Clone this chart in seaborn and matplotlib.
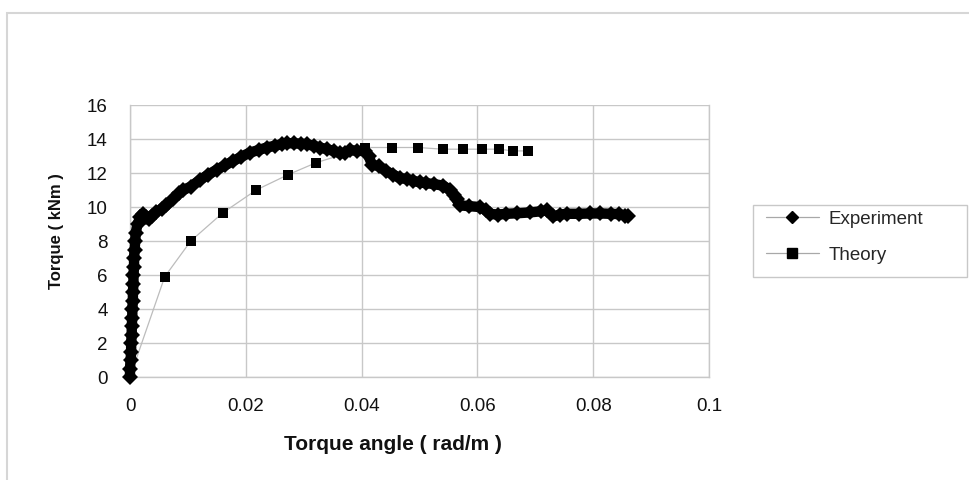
import matplotlib
matplotlib.use("Agg")
import matplotlib.pyplot as plt
from matplotlib.lines import Line2D
from matplotlib.patches import Rectangle
import seaborn as sns
import pandas as pd

# ---- data ----
exp_angle = [0.0000, 0.0000, 0.0001, 0.0002, 0.0002, 0.0003, 0.0003, 0.0004, 0.0004,
             0.0005, 0.0005, 0.0006, 0.0006, 0.0007, 0.0007, 0.0008, 0.0009, 0.0010,
             0.0013, 0.0018, 0.0022, 0.0027, 0.0032, 0.0038, 0.0045, 0.0055, 0.0063,
             0.0075, 0.0085, 0.0092, 0.0105, 0.0121, 0.0135, 0.0150, 0.0164, 0.0178,
             0.0192, 0.0207, 0.0222, 0.0236, 0.0250, 0.0262, 0.0271, 0.0283, 0.0295,
             0.0305, 0.0317, 0.0328, 0.0340, 0.0352, 0.0363, 0.0372, 0.0380, 0.0392,
             0.0406, 0.0412, 0.0418, 0.0430, 0.0443, 0.0455, 0.0466, 0.0478, 0.0489,
             0.0500, 0.0512, 0.0525, 0.0541, 0.0553, 0.0560, 0.0564, 0.0570, 0.0585,
             0.0604, 0.0615, 0.0622, 0.0635, 0.0650, 0.0668, 0.0690, 0.0710, 0.0720,
             0.0731, 0.0742, 0.0754, 0.0775, 0.0795, 0.0812, 0.0830, 0.0845, 0.0855,
             0.0860]
exp_torque = [0.0, 0.5, 1.0, 1.5, 2.0, 2.5, 3.0, 3.5, 4.0,
              4.5, 5.0, 5.5, 6.0, 6.5, 7.0, 7.5, 8.0, 8.5,
              9.0, 9.4, 9.6, 9.4, 9.3, 9.5, 9.7, 9.9, 10.1,
              10.5, 10.8, 11.0, 11.2, 11.6, 11.9, 12.2, 12.45, 12.7,
              12.95, 13.2, 13.35, 13.5, 13.6, 13.7, 13.75, 13.75, 13.72,
              13.7, 13.6, 13.5, 13.4, 13.3, 13.15, 13.2, 13.35, 13.3,
              13.3, 13.0, 12.5, 12.4, 12.1, 11.9, 11.7, 11.65, 11.55,
              11.45, 11.4, 11.35, 11.25, 11.0, 10.7, 10.45, 10.1, 10.05,
              10.0, 9.8, 9.6, 9.55, 9.6, 9.63, 9.68, 9.75, 9.8,
              9.45, 9.55, 9.6, 9.6, 9.62, 9.62, 9.6, 9.58, 9.5,
              9.45]

theory_angle = [0.0, 0.0060, 0.0105, 0.0160, 0.0218, 0.0273, 0.0321, 0.0406,
                0.0452, 0.0498, 0.0540, 0.0575, 0.0608, 0.0637, 0.0662, 0.0688]
theory_torque = [0.0, 5.9, 8.0, 9.65, 11.0, 11.9, 12.6, 13.5,
                 13.5, 13.5, 13.4, 13.4, 13.4, 13.4, 13.3, 13.3]

x_ticks = [0, 0.02, 0.04, 0.06, 0.08, 0.1]
x_tick_labels = ["0", "0.02", "0.04", "0.06", "0.08", "0.1"]
y_ticks = [0, 2, 4, 6, 8, 10, 12, 14, 16]

exp_df = pd.DataFrame({"angle": exp_angle, "torque": exp_torque})
th_df = pd.DataFrame({"angle": theory_angle, "torque": theory_torque})

# ---- style ----
sns.set_style("white")
plt.rcParams["font.family"] = ["Liberation Sans", "DejaVu Sans"]

W, H = 969, 480
fig = plt.figure(figsize=(W / 100, H / 100), dpi=100)
ax = fig.add_axes([130 / W, 1 - 377 / H, 579 / W, 272 / H])

grid_c = "#c8c8c8"

# Theory: thin grey line with square markers
sns.lineplot(data=th_df, x="angle", y="torque", ax=ax, sort=False, estimator=None,
             color="#bcbcbc", linewidth=0.9, zorder=2)
sns.scatterplot(data=th_df, x="angle", y="torque", ax=ax, marker="s", s=55,
                color="black", edgecolor="black", linewidth=0, zorder=3)

# Experiment: dense diamonds forming a thick band
n_before = len(ax.lines)
sns.lineplot(data=exp_df, x="angle", y="torque", ax=ax, sort=False, estimator=None,
             color="black", linewidth=7.5, zorder=4,
             marker="D", markersize=8, markeredgewidth=0)
for ln in ax.lines[n_before:]:
    ln.set_clip_on(False)

ax.set_xlim(0, 0.1)
ax.set_ylim(0, 16)
ax.set_xticks(x_ticks)
ax.set_xticklabels(x_tick_labels)
ax.set_yticks(y_ticks)
ax.set_xlabel("")
ax.set_ylabel("")

ax.grid(True, color=grid_c, linewidth=1.0)
ax.set_axisbelow(True)
for side in ["left", "bottom", "right", "top"]:
    ax.spines[side].set_color(grid_c)
    ax.spines[side].set_linewidth(1.0)
ax.spines["top"].set_visible(False)

ax.tick_params(axis="both", which="both", direction="out", color=grid_c,
               labelsize=13.5, labelcolor="#111111")
ax.tick_params(axis="y", length=6, pad=10)
ax.tick_params(axis="x", length=4, pad=11)
if ax.get_legend() is not None:
    ax.get_legend().remove()

# Axis titles
fig.text(393 / W, 1 - 445 / H, "Torque angle ( rad/m )", ha="center", va="center",
         fontsize=15, fontweight="bold", color="#111111")
fig.text(57 / W, 1 - 231 / H, "Torque ( kNm )", ha="center", va="center",
         rotation=90, fontsize=12, fontweight="bold", color="#111111")

# Outer chart-area border
fig.patches.append(Rectangle((7 / W, -0.05), 1.1, 1 - 13 / H + 0.05,
                             transform=fig.transFigure, fill=False,
                             edgecolor="#d6d6d6", linewidth=1.5))

# Legend box
fig.patches.append(Rectangle((753 / W, 1 - 277 / H), 214 / W, 72 / H,
                             transform=fig.transFigure, fill=False,
                             edgecolor="#c8c8c8", linewidth=1.0))
handles = [
    Line2D([0], [0], color="#a8a8a8", linewidth=0.9, marker="D", markersize=6,
           markerfacecolor="black", markeredgecolor="black"),
    Line2D([0], [0], color="#a8a8a8", linewidth=0.9, marker="s", markersize=7,
           markerfacecolor="black", markeredgecolor="black"),
]
fig.legend(handles, ["Experiment", "Theory"], loc="center left",
           bbox_to_anchor=(766 / W, 1 - 237 / H), frameon=False, fontsize=13.5,
           handlelength=2.8, handletextpad=0.55, labelspacing=1.0, borderpad=0,
           borderaxespad=0)

fig.savefig("out.png", dpi=100)
